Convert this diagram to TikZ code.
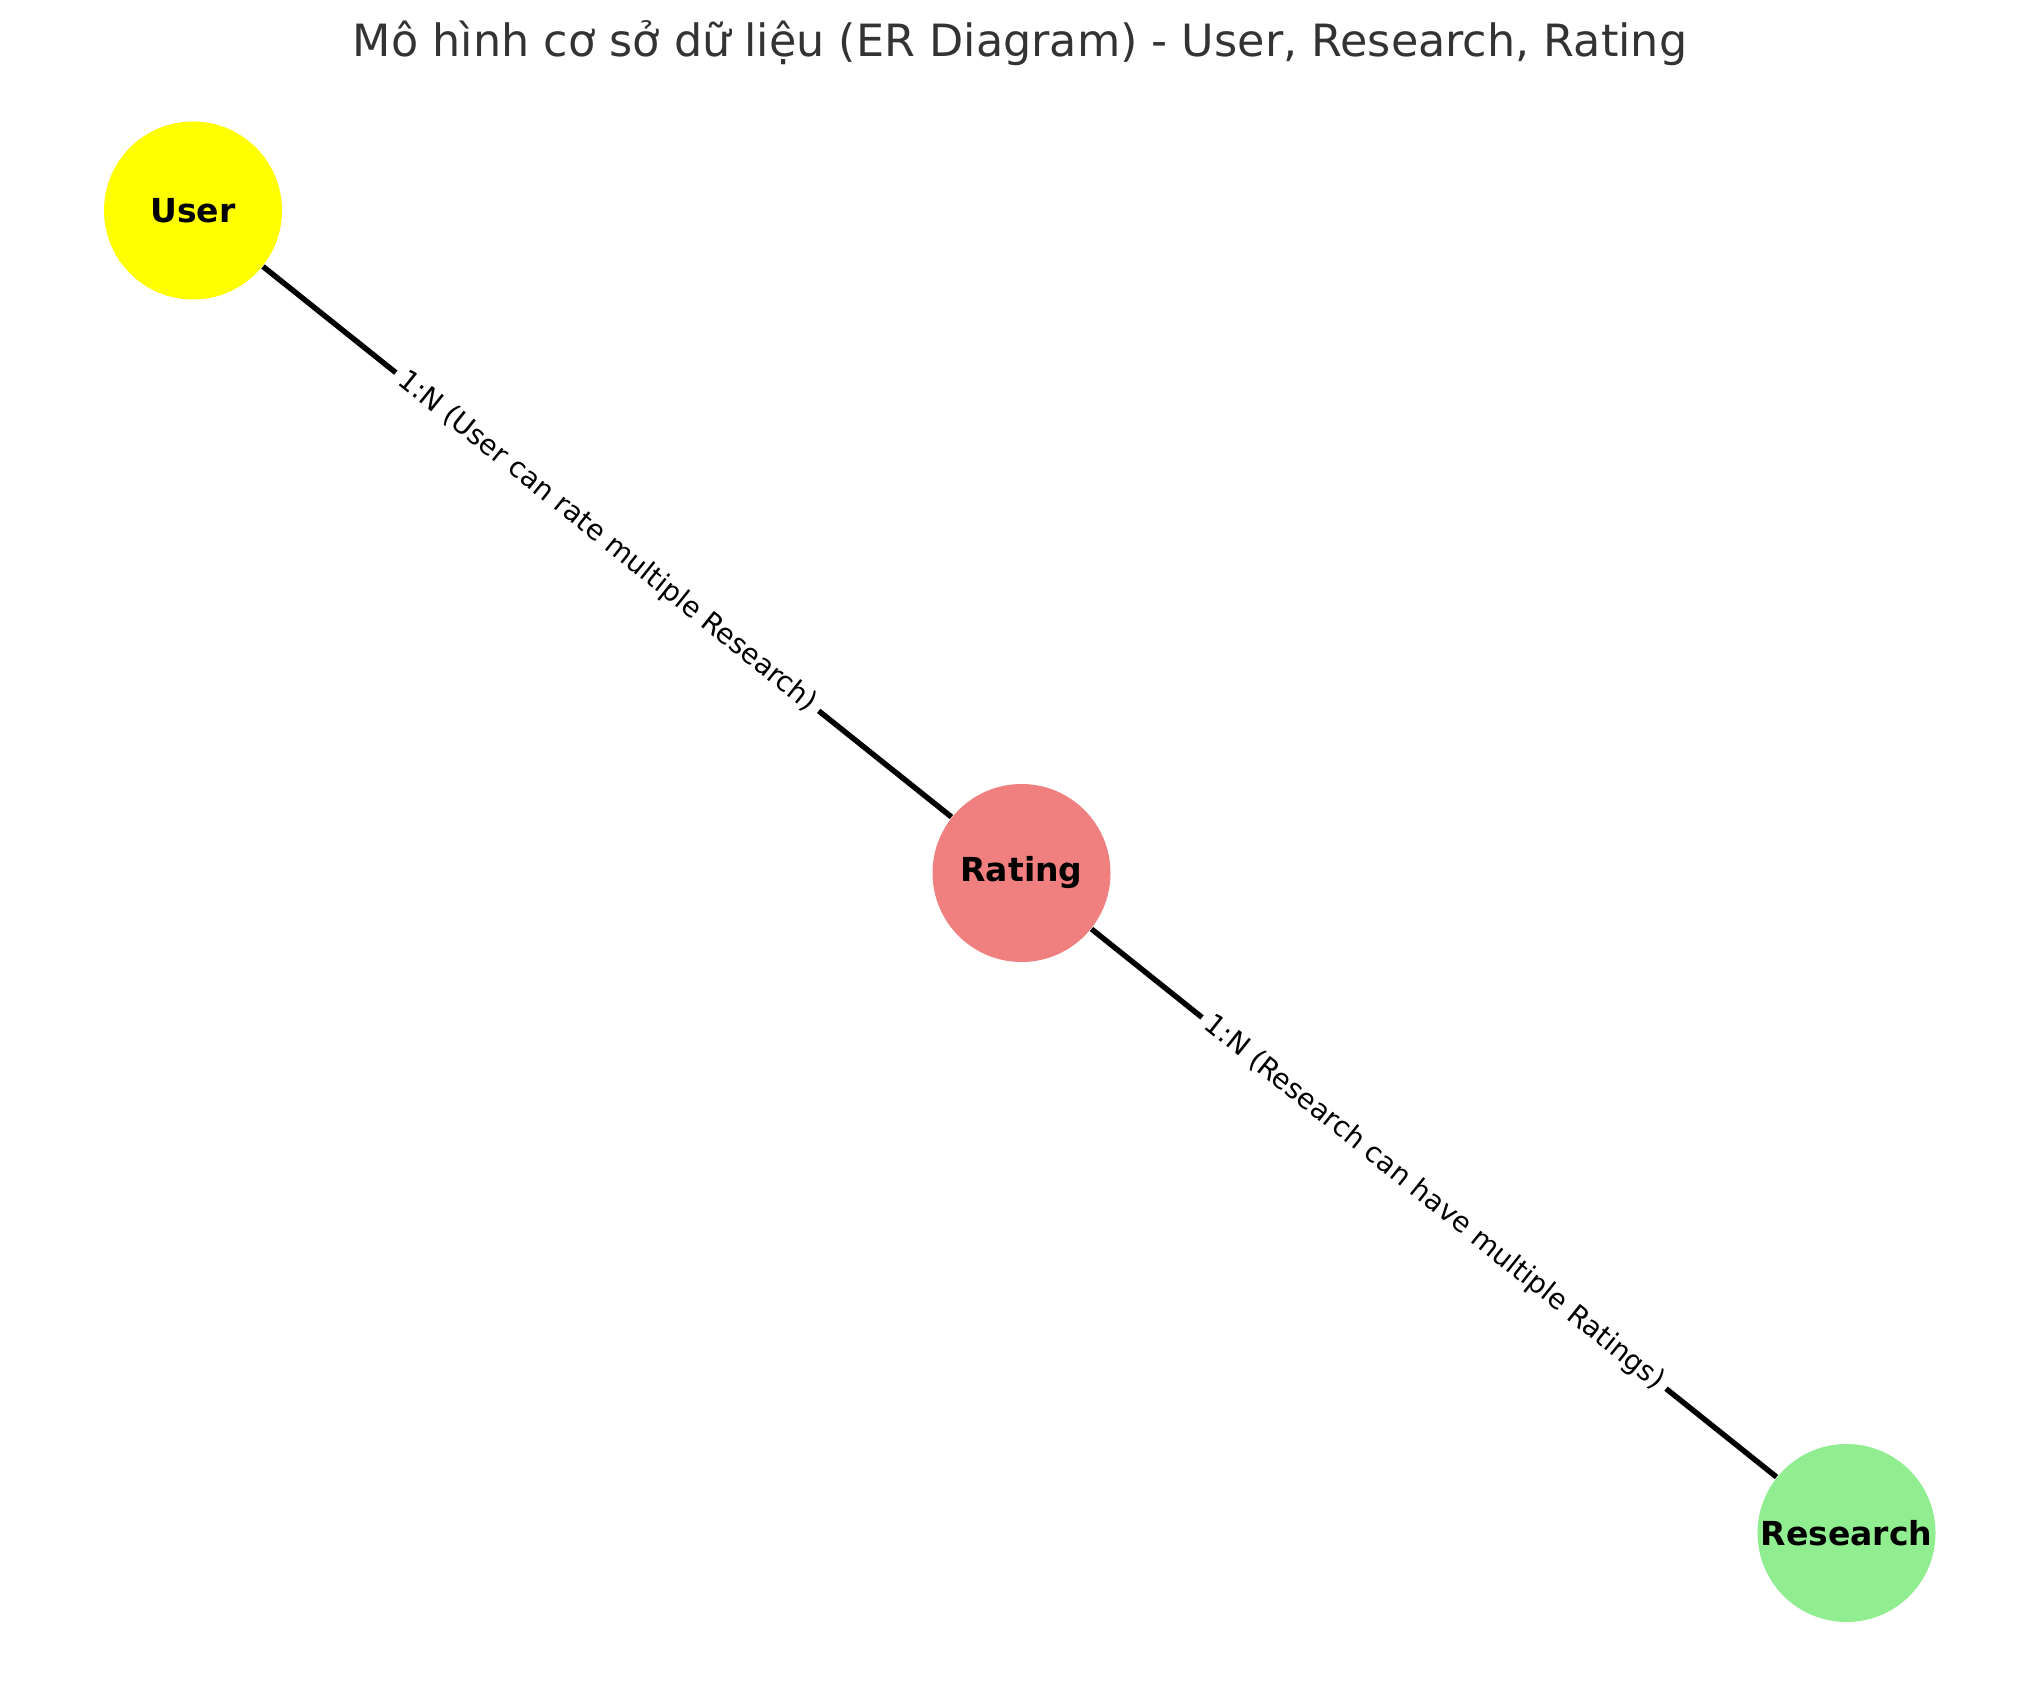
\documentclass[tikz,border=0pt]{standalone}
\usepackage{fontspec}
\setmainfont{DejaVu Sans}
\definecolor{titlegray}{RGB}{51,51,51}
\definecolor{ucol}{RGB}{255,255,0}
\definecolor{rcol}{RGB}{240,128,128}
\definecolor{scol}{RGB}{144,238,144}
\tikzset{
  entity/.style={circle, minimum size=1.78cm, inner sep=0pt, font=\fontsize{9.4pt}{11pt}\selectfont\bfseries, text=black},
  relline/.style={line width=1.55pt, black},
  rellabel/.style={sloped, fill=white, inner xsep=2pt, inner ysep=1.5pt, font=\fontsize{7.95pt}{9pt}\selectfont, text=black}
}
\begin{document}
\begin{tikzpicture}
\useasboundingbox (0,0) rectangle (20.39,-16.92);
\node[anchor=base, text=titlegray, font=\fontsize{12.65pt}{15pt}\selectfont] (title) at (10.20,-0.57) {Mô hình cơ sở dữ liệu (ER Diagram) - User, Research, Rating};
\node[entity, fill=ucol] (user) at (1.93,-2.105) {User};
\node[entity, fill=rcol] (rating) at (10.215,-8.73) {Rating};
\node[entity, fill=scol] (research) at (18.465,-15.33) {Research};
\draw[relline] (user) -- node[rellabel] (l1) {1:N (User can rate multiple Research)} (rating);
\draw[relline] (rating) -- node[rellabel] (l2) {1:N (Research can have multiple Ratings)} (research);
\end{tikzpicture}
\end{document}
